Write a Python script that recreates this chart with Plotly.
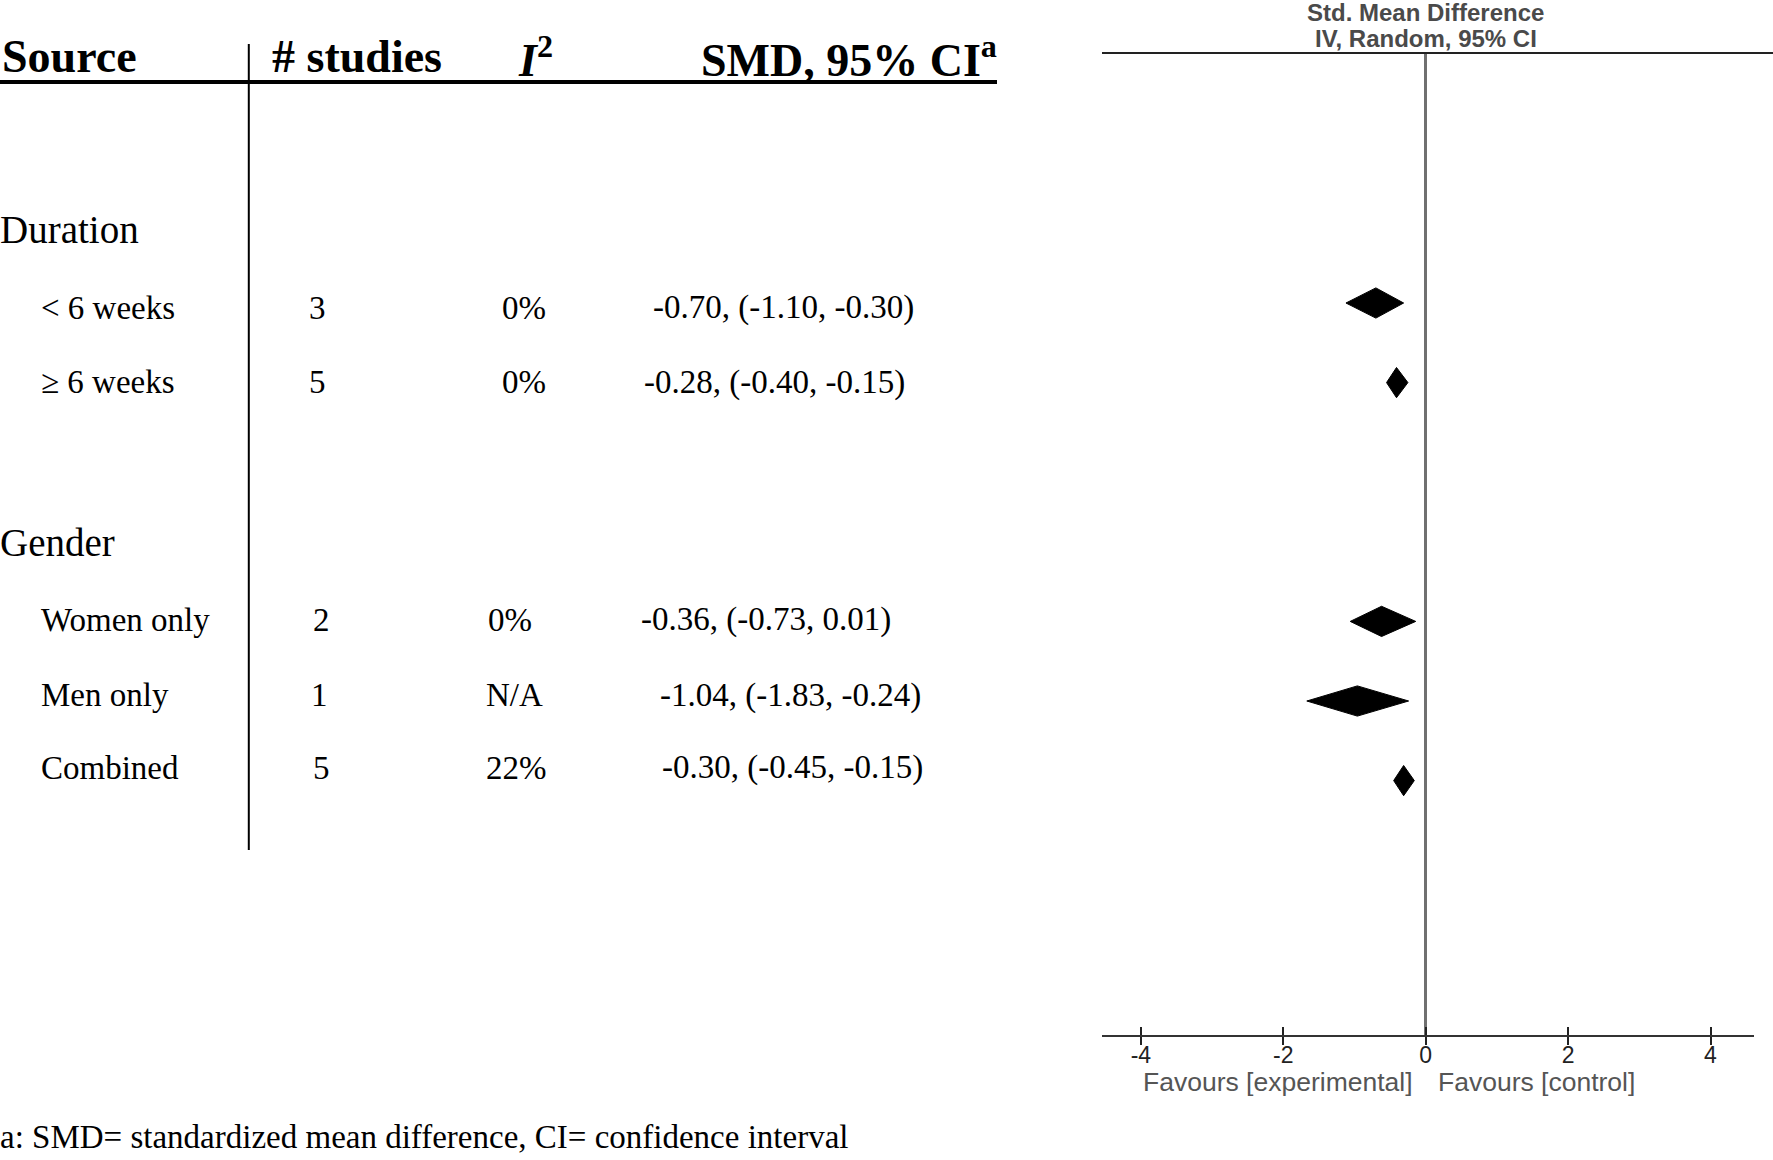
import plotly.graph_objects as go

# ---------------- data ----------------
group_labels = ["Duration", "Gender"]
subgroup_labels = ["< 6 weeks", "\u2265 6 weeks", "Women only", "Men only", "Combined"]
n_studies = [3, 5, 2, 1, 5]
i2_values = ["0%", "0%", "0%", "N/A", "22%"]
smd_text = ["-0.70, (-1.10, -0.30)", "-0.28, (-0.40, -0.15)", "-0.36, (-0.73, 0.01)",
            "-1.04, (-1.83, -0.24)", "-0.30, (-0.45, -0.15)"]

# diamonds as drawn in the forest panel
diamond_est = [-0.70, -0.41, -0.62, -0.96, -0.31]
diamond_lo = [-1.12, -0.55, -1.06, -1.67, -0.45]
diamond_hi = [-0.31, -0.25, -0.14, -0.24, -0.16]
diamond_rows = [2, 3, 6, 7, 8]

tick_values = [-4, -2, 0, 2, 4]
tick_labels = ["-4", "-2", "0", "2", "4"]

header_labels = ["Source", "# studies", "<i>I</i><sup>2</sup>", "SMD, 95% CI<sup>a</sup>"]
forest_title = ["Std. Mean Difference", "IV, Random, 95% CI"]
favours_labels = ["Favours [experimental]", "Favours [control]"]
footnote = "a: SMD= standardized mean difference, CI= confidence interval"

# ---------------- layout helpers (pixel geometry of the page) ----------------
W, H = 1773, 1160


def px(x):
    return x / W


def py(y):
    return 1 - y / H


SERIF = "Liberation Serif, Times New Roman, serif"
SANS = "Liberation Sans, Arial, sans-serif"

# table geometry
GROUP_Y = [229.5, 542.7]
ROW_Y = [307.5, 382.0, 619.6, 695.4, 767.7]
STUDIES_X = [317, 317, 321, 319, 321]
I2_X = [500, 500, 486, 484, 484]
SMD_X = [651, 642, 639, 658, 660]
HEADER_Y = 57
HEADER_RULE_Y = 82

# forest geometry
AX_LEFT, AX_RIGHT = 1102, 1754
PLOT_TOP, PLOT_BOTTOM = 53, 1035
ZERO_PX, PX_PER_UNIT = 1425.7, 71.2
ROW0_PX, ROW_STEP = 143.8, 79.6
DIAMOND_HALF = 0.19

fig = go.Figure()

# diamonds
for est, lo, hi, r in zip(diamond_est, diamond_lo, diamond_hi, diamond_rows):
    fig.add_trace(go.Scatter(
        x=[lo, est, hi, est, lo],
        y=[r, r - DIAMOND_HALF, r, r + DIAMOND_HALF, r],
        mode="lines", fill="toself", fillcolor="black",
        line=dict(color="black", width=1), showlegend=False, hoverinfo="skip"))

# invisible trace on the overlaying axis (for inside tick marks)
fig.add_trace(go.Scatter(x=[tick_values[0]], y=[0], xaxis="x2", yaxis="y",
                         mode="markers", marker=dict(opacity=0), showlegend=False,
                         hoverinfo="skip"))

x_range = [(AX_LEFT - ZERO_PX) / PX_PER_UNIT, (AX_RIGHT - ZERO_PX) / PX_PER_UNIT]
y_range = [(PLOT_BOTTOM - ROW0_PX) / ROW_STEP, (PLOT_TOP - ROW0_PX) / ROW_STEP]

ann = []
# header
ann.append(dict(x=px(0), y=py(HEADER_Y), xanchor="left", text="<b>" + header_labels[0] + "</b>"))
ann.append(dict(x=px(270), y=py(HEADER_Y), xanchor="left", text="<b>" + header_labels[1] + "</b>"))
ann.append(dict(x=px(535), y=py(HEADER_Y), xanchor="center", text="<b>" + header_labels[2] + "</b>"))
ann.append(dict(x=px(999), y=py(HEADER_Y), xanchor="right", text="<b>" + header_labels[3] + "</b>"))
for a in ann:
    a.update(xref="paper", yref="paper", yanchor="middle", showarrow=False,
             font=dict(family=SERIF, size=46, color="black"))

body = []
for g, gy in zip(group_labels, GROUP_Y):
    body.append(dict(x=px(-2), y=py(gy), xanchor="left", text=g, size=39))
for i, lab in enumerate(subgroup_labels):
    yy = py(ROW_Y[i])
    body.append(dict(x=px(39), y=yy, xanchor="left", text=lab, size=33))
    body.append(dict(x=px(STUDIES_X[i]), y=yy, xanchor="center", text=str(n_studies[i]), size=33))
    body.append(dict(x=px(I2_X[i]), y=yy, xanchor="left", text=i2_values[i], size=33))
    body.append(dict(x=px(SMD_X[i]), y=yy, xanchor="left", text=smd_text[i], size=33))
body.append(dict(x=px(-2), y=py(1137), xanchor="left", text=footnote, size=33))
for b in body:
    s = b.pop("size")
    b.update(xref="paper", yref="paper", yanchor="middle", showarrow=False,
             font=dict(family=SERIF, size=s, color="black"))
ann.extend(body)

# forest title
for t, ty in zip(forest_title, [12, 38]):
    ann.append(dict(x=0, xref="x", y=py(ty), yref="paper", xanchor="center", yanchor="middle",
                    text="<b>" + t + "</b>", showarrow=False,
                    font=dict(family=SANS, size=24, color="#4a4a4a")))
# favours labels
ann.append(dict(x=-0.15, xref="x", y=py(1082), yref="paper", xanchor="right", yanchor="middle",
                text=favours_labels[0], showarrow=False,
                font=dict(family=SANS, size=26.5, color="#555555")))
ann.append(dict(x=0.15, xref="x", y=py(1082), yref="paper", xanchor="left", yanchor="middle",
                text=favours_labels[1], showarrow=False,
                font=dict(family=SANS, size=26.5, color="#555555")))

shapes = [
    # header underline
    dict(type="line", xref="paper", yref="paper", x0=px(0), x1=px(997),
         y0=py(HEADER_RULE_Y), y1=py(HEADER_RULE_Y), line=dict(color="black", width=4)),
    # table vertical divider
    dict(type="line", xref="paper", yref="paper", x0=px(248.8), x1=px(248.8), y0=py(44), y1=py(850),
         line=dict(color="black", width=2)),
    # forest top rule
    dict(type="line", xref="paper", yref="paper", x0=px(AX_LEFT), x1=1, y0=py(PLOT_TOP), y1=py(PLOT_TOP),
         line=dict(color="#222222", width=2)),
]

fig.update_layout(
    width=W, height=H, margin=dict(l=0, r=0, t=0, b=0),
    paper_bgcolor="white", plot_bgcolor="white",
    showlegend=False,
    annotations=ann, shapes=shapes,
    xaxis=dict(domain=[px(AX_LEFT), px(AX_RIGHT)], range=x_range, anchor="y",
               tickmode="array", tickvals=tick_values, ticktext=tick_labels,
               ticks="outside", ticklen=8, tickwidth=2, tickcolor="#222222",
               showline=True, linecolor="#333333", linewidth=2,
               showgrid=False, zeroline=True, zerolinecolor="#707070", zerolinewidth=3,
               tickfont=dict(family=SANS, size=23, color="#222222"),
               ticklabelstandoff=-10, fixedrange=True),
    xaxis2=dict(overlaying="x", matches="x", anchor="y", side="bottom",
                tickmode="array", tickvals=tick_values, ticks="inside", ticklen=8,
                tickwidth=2, tickcolor="#222222", showticklabels=False,
                showline=False, showgrid=False, zeroline=False),
    yaxis=dict(domain=[py(PLOT_BOTTOM), py(PLOT_TOP)], range=y_range,
               visible=False, showgrid=False, zeroline=False, fixedrange=True),
)

fig.write_html("out.html", config={"displayModeBar": False},
               post_script="document.body.style.margin='0';document.body.style.overflow='hidden';")
